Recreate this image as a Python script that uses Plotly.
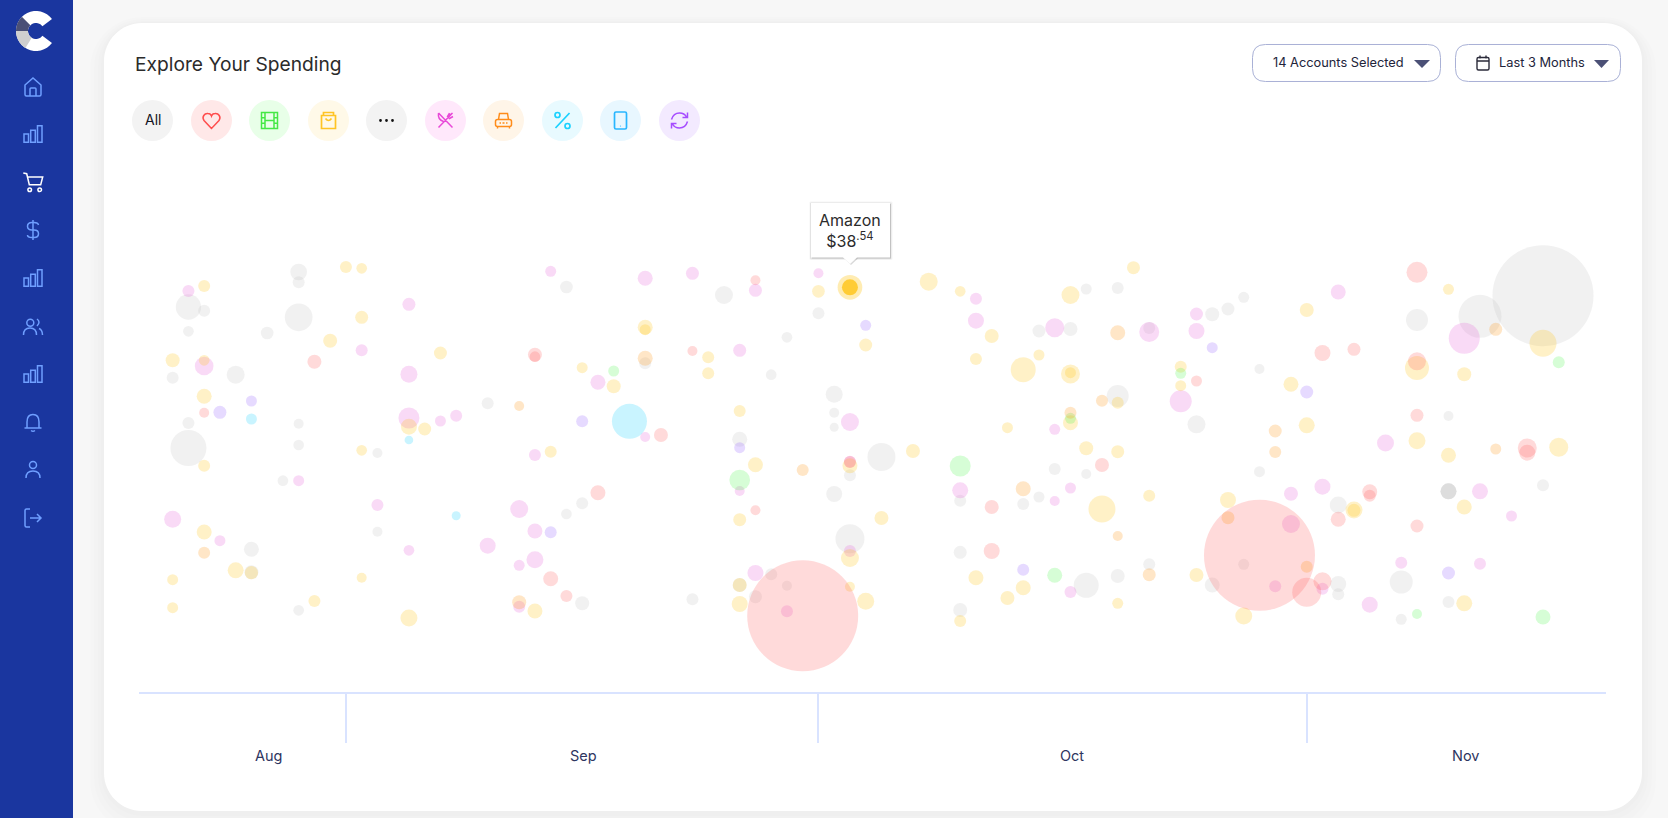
import re
import numpy as np
import pandas as pd
import plotly.graph_objects as go

W = 1668
H = 818

# one list each per category: day counted from Sep 1, lane height, bubble size
other_day = [-3, -3, -10, -9, -3, -10, -5, 14, -11, -7, -10, -3, -3, -10, 2, 9,
             -4, 2, -6, -6, -3, 14, 15, 15,
             24, 30, 28, 27, 19, 31, 31, 31, 25, 34, 47, 49, 44, 46, 49,
             32, 31, 45, 47, 44, 43, 39, 32, 39, 27, 28, 26, 25, 22, 47, 39, 49,
             57, 56, 55, 51, 58, 54, 68, 72, 76, 70,
             58, 63, 51, 57, 55, 63, 63, 67, 70, 67, 70, 70, 70, 76]
other_y = [272, 282.3, 307, 310.7, 317.3, 331.3, 333, 287, 377.7, 374.7, 423, 423.7, 445, 448, 453, 403.3,
           480.7, 531.7, 549.3, 572.3, 610.3, 514, 503.3, 603.3,
           295, 313.3, 337.3, 374.7, 363.3, 394.3, 412.7, 427.3, 439.3, 457, 289, 288, 331, 329, 396,
           475.3, 494, 469, 474, 497, 504, 500.7, 538.7, 552.3, 574.3, 585.7, 596.7, 585, 599.3, 585.3, 610, 576,
           297.3, 309, 314.3, 328, 369, 424.3, 320, 316.3, 295.7, 416,
           471.7, 505, 564.3, 564.3, 585, 584, 594.3, 582, 602, 619.3, 491.3, 491.3, 491.3, 485.3]
other_size = [16.7, 12, 25.3, 12, 27.7, 10.7, 12.7, 12.7, 12, 18, 12, 10, 10.7, 36, 10, 12,
              10.7, 10, 15, 14, 10.7, 10.7, 12, 14,
              18, 12, 10.7, 10.7, 12, 17, 10, 9, 15, 28, 11, 12, 13, 14, 22,
              12, 16, 12, 10, 11, 12, 12, 29, 13, 12, 10, 13, 14, 12, 25, 14, 14,
              11, 13, 14, 12, 10, 18, 22, 43, 101, 10,
              11, 17, 12, 11, 15, 16, 12, 23, 12, 11, 16, 16, 16, 12]

dining_day = [-10, 4, 13, 1, -9, 4, 4, 6, 7, 16, 12,
              -3, 2, -11, -8, 4, 11, 12, 9, 12, 11, 11,
              19, 22, 26, 30, 25, 40, 40, 45, 32, 19, 45,
              32, 25, 39, 46, 45, 32, 26, 28, 46,
              63, 54, 51, 54, 71, 53, 66,
              60, 62, 72, 74, 60, 67, 72, 59, 62, 65]
dining_y = [291, 304.3, 271.3, 350.3, 366, 374.3, 418, 421, 415.7, 382.3, 455,
            480.7, 505, 519.3, 540.7, 550.3, 509, 531, 545.7, 559.7, 565.3, 606.7,
            278.3, 273.3, 290.3, 273.3, 350.3, 298.7, 320.7, 327.7, 422, 437, 429.3,
            461.7, 491, 490.3, 488, 501, 551, 573, 611.3, 592,
            292, 314, 332, 331, 338.3, 401.3, 443,
            493.7, 486.7, 491.3, 516, 524, 562.7, 563.7, 586.3, 588.7, 604.7]
dining_size = [12, 13, 11, 12, 18.7, 17, 21, 11, 12, 15, 12,
               11, 12, 17, 11, 10.7, 18, 15, 16, 17, 11, 12,
               15, 13, 13, 10, 13, 12, 16, 19, 18, 10, 11,
               12, 10, 16, 11, 10, 12, 16, 12, 12,
               15, 13, 20, 16, 31, 22, 17,
               14, 16, 16, 11, 18, 12, 12, 12, 12, 16]

shopping_day = [-9, 0, 1, 1, -1, -11, -9, 6, -9, 4, 5, 1, 15, 17, 13,
                -9, -9, -7, -6, -11, -11, 1, -2, 4, 12,
                30, 37, 39, 46, 19, 19, 23, 23, 33, 41, 40, 44, 43, 46, 46, 25, 42, 46, 36, 47, 49, 49,
                26, 32, 25, 34, 32, 25, 32, 25, 33, 40, 43, 42, 39, 48, 49,
                50, 61, 70, 53, 53, 60, 61, 68, 71, 76, 68, 77, 70,
                51, 56, 64, 64, 71, 54, 57, 71]
shopping_y = [286, 267, 268.3, 317.3, 340.7, 360.3, 360.3, 353, 396.3, 426.7, 429, 450.3, 367.7, 386.3, 451.7,
              465.7, 532, 570.3, 572.7, 579.7, 607.7, 577.7, 601, 618, 611,
              291.3, 281.7, 291.3, 295, 327.3, 329.7, 357.3, 373.3, 345, 336, 359, 355, 369.7, 374, 372.7, 411, 427.7, 422.7, 451, 448.3, 451.7, 402.7,
              464.7, 465.7, 519.7, 518, 558, 585, 586.7, 604, 601.3, 577.7, 587.7, 598, 621, 509, 603.3,
              267.7, 310, 289.3, 366.7, 385.7, 384.3, 425.3, 368, 374.3, 343.3, 440.7, 447.3, 455.3,
              495.7, 500, 510, 510.3, 507, 575, 616, 603.3]
shopping_size = [12, 12, 10.7, 13, 14, 14, 10.7, 13, 15, 16, 13, 10.7, 11, 14, 12,
                 12, 15, 16, 13.3, 11, 11, 10, 12, 17, 15,
                 12.7, 18, 10.7, 18, 15, 11, 12, 12, 13, 14, 12, 11, 25, 19, 11, 12, 11, 15, 14, 14, 13, 12,
                 15, 15, 13, 14, 18, 14, 10, 16, 17, 15, 15, 14, 12, 27, 11,
                 13, 14, 11, 12, 11, 15, 16, 24, 14, 27, 17, 19, 15,
                 12, 16, 17, 13, 15, 14, 17, 16]

health_day = [-2, -9, 12, 12, 16, 13, 14, 26, 22, 20,
              32, 48, 26, 41, 41, 29,
              68, 62, 64, 68, 54, 68, 75, 75,
              65, 65, 63, 68, 58, 61, 62]
health_y = [361.7, 412.7, 354.7, 356.7, 492.7, 578.7, 596, 280.3, 351, 435,
            462, 465, 510.3, 507, 551, 615.7,
            272.3, 353, 349.3, 361.3, 381, 415.3, 448, 452.7,
            491.7, 495.7, 519.3, 526, 555.3, 592.3, 581.3]
health_size = [14, 10, 14, 10.7, 15, 15, 12, 10, 10, 14,
               12, 14, 10, 14, 16, 111,
               21, 16, 13, 18, 11, 13, 19, 16,
               15, 12, 15, 13, 111, 29, 18]

subs_day = [-8, -6, 15, 13, 33, 25, 43, 55, 61, 70]
subs_y = [412.3, 401, 421.3, 532.3, 325.3, 447.7, 569.7, 347.7, 392, 573]
subs_size = [13, 11, 12, 12, 11, 11, 12, 11, 13, 13]

fees_day = [-6, 4, 18, 7]
fees_y = [419, 440, 421.3, 515.7]
fees_size = [11, 8.7, 35, 9]

fun_day = [17, 46, 25, 39, 45, 53, 77, 68, 76]
fun_y = [371, 418.3, 480, 466, 575.3, 373.3, 362.3, 614, 617]
fun_size = [11, 11, 20.7, 21, 15, 11, 12, 10, 15]

auto_day = [11, -9, 11, 19, 48, 46, 49, 29, 43, 49, 59, 59, 73, 73, 51, 56, 61]
auto_y = [406, 552.7, 602.3, 358.3, 400.7, 412.7, 332.7, 470, 488.7, 536, 431, 452, 329.3, 449, 574.7, 517.7, 566.7]
auto_size = [10, 12, 14, 15, 12, 12, 15, 12, 15, 10, 13, 12, 13, 11, 13, 13, 12]

# the hovered Amazon purchase
picked_day = [32]
picked_y = [287.3]
picked_size = [16]
picked_ring = [24.7]
picked_name = "Amazon"
picked_amount = "$38<sup>.54</sup>"

month_names = ["Aug", "Sep", "Oct", "Nov"]
month_label_day = [-4.9, 15.1, 46.1, 71.1]
month_start_day = [0, 30, 61]
first_day = -13.15
last_day = 80

BUBBLE_ALPHA = 0.22


def to_date(days):
    return pd.Timestamp("2019-09-01") + pd.to_timedelta(days, unit="D")


# shapes are placed by page pixels, so turn those into paper fractions
def px(x):
    return x / W


def py(y):
    return 1 - y / H


def path_at(d, cx=0, cy=0):
    out = []
    nums = []
    for tok in re.findall(r"[MLCQZ]|-?[\d.]+", d):
        if tok.isalpha():
            out.append(tok)
        else:
            nums.append(float(tok))
            if len(nums) == 2:
                out.append(f"{px(nums[0] + cx):.5f},{py(nums[1] + cy):.5f}")
                nums = []
    return " ".join(out)


shapes = []


def stroke(d, cx, cy, color, width=1.5, fill=None, layer="below"):
    shapes.append(dict(type="path", path=path_at(d, cx, cy), xref="paper", yref="paper", layer=layer,
                       line=dict(color=color, width=width), fillcolor=fill))


def circle(cx, cy, r, fill=None, color=None, width=0, layer="below"):
    shapes.append(dict(type="circle", xref="paper", yref="paper", layer=layer,
                       x0=px(cx - r), x1=px(cx + r), y0=py(cy + r), y1=py(cy - r), fillcolor=fill,
                       line=dict(color=color, width=width)))


def round_rect(x0, y0, x1, y1, r):
    return (f"M{x0 + r},{y0} L{x1 - r},{y0} Q{x1},{y0} {x1},{y0 + r} L{x1},{y1 - r} Q{x1},{y1} {x1 - r},{y1} "
            f"L{x0 + r},{y1} Q{x0},{y1} {x0},{y1 - r} L{x0},{y0 + r} Q{x0},{y0} {x0 + r},{y0} Z")


def card_path(x0, y0, x1, y1, r):
    k = 0.45 * r
    return (f"M{x0 + r},{y0} L{x1 - r},{y0} C{x1 - k},{y0} {x1},{y0 + k} {x1},{y0 + r} L{x1},{y1 - r} "
            f"C{x1},{y1 - k} {x1 - k},{y1} {x1 - r},{y1} L{x0 + r},{y1} C{x0 + k},{y1} {x0},{y1 - k} {x0},{y1 - r} "
            f"L{x0},{y0 + r} C{x0},{y0 + k} {x0 + k},{y0} {x0 + r},{y0} Z")


def wedge(cx, cy, r0, r1, a0, a1):
    ang = np.radians(np.linspace(a0, a1, 30))
    pts = [(cx + r1 * np.cos(a), cy - r1 * np.sin(a)) for a in ang]
    pts += [(cx + r0 * np.cos(a), cy - r0 * np.sin(a)) for a in ang[::-1]]
    return "M" + " L".join(f"{x:.2f},{y:.2f}" for x, y in pts) + " Z"


# card and its soft shadow
for grow, drop in [(14, 8), (10, 6), (6, 4), (3, 2)]:
    stroke(card_path(104 - grow, 23 - grow + drop, 1642 + grow, 811 + grow + drop, 38 + grow), 0, 0,
           "rgba(0,0,0,0)", 0, "rgba(0,0,0,0.006)")
stroke(card_path(104, 23, 1642, 811, 38), 0, 0, "rgba(0,0,0,0)", 0, "#ffffff")

# sidebar
shapes.append(dict(type="rect", xref="paper", yref="paper", layer="below", x0=0, x1=px(73), y0=0, y1=1,
                   fillcolor="#1a369f", line=dict(width=0)))

# logo
stroke(wedge(36, 31, 8, 20, 37, 323), 0, 0, "rgba(0,0,0,0)", 0, "#ffffff")
stroke(wedge(36, 31, 8, 20, 135, 180), 0, 0, "rgba(0,0,0,0)", 0, "#4b5076")
stroke(wedge(36, 31, 8, 20, 180, 238), 0, 0, "rgba(0,0,0,0)", 0, "#cfcfcf")

NAV = "#6f9fff"
bars = ("M-9,0 L-4.5,0 L-4.5,8.3 L-9,8.3 Z M-2.3,-3.7 L2.3,-3.7 L2.3,8.3 L-2.3,8.3 Z "
        "M4.5,-8.3 L9,-8.3 L9,8.3 L4.5,8.3 Z")
stroke("M-8,-2 L0,-9 L8,-2 L8,7.5 Q8,9 6.5,9 L-6.5,9 Q-8,9 -8,7.5 Z M-3,9 L-3,2 Q-3,1 -2,1 L2,1 Q3,1 3,2 L3,9",
       33, 87, NAV)
stroke(bars, 33, 134, NAV)
stroke("M-9.7,-9 L-6.3,-8.3 L-3.7,2.7 L7.7,2.7 L9.7,-5 L-5.7,-5", 33, 182, "#ffffff")
circle(29.7, 189.7, 1.8, None, "#ffffff", 1.5)
circle(39.7, 189.7, 1.8, None, "#ffffff", 1.5)
stroke("M0,-10 L0,10 M5.5,-5 Q5,-7.5 1,-7.5 L-1,-7.5 Q-5.5,-7.5 -5.5,-3.7 Q-5.5,0 -1,0 L1,0 Q5.5,0 5.5,3.7 "
       "Q5.5,7.5 1,7.5 L-1,7.5 Q-5.5,7.5 -5.5,5", 33, 230, NAV)
stroke(bars, 33, 278, NAV)
circle(30.3, 322.7, 3.5, None, NAV, 1.5)
stroke("M-9.5,8 Q-9.5,1 -3,1 Q3.5,1 3.5,8 M4,-8 Q8,-5 4,-1 M6,1.5 Q9.5,3 9.5,8", 33, 327, NAV)
stroke(bars, 33, 374, NAV)
stroke("M-8.5,6 L8.5,6 M-6,6 L-6,0 Q-6,-7.5 0,-7.5 Q6,-7.5 6,0 L6,6 M-2,8.5 Q0,10 2,8.5", 33, 422, NAV)
circle(33, 465, 3.5, None, NAV, 1.5)
stroke("M-7,8 Q-7,1 0,1 Q7,1 7,8", 33, 470, NAV)
stroke("M-3,-9 L-6.5,-9 Q-8,-9 -8,-7.5 L-8,7.5 Q-8,9 -6.5,9 L-3,9 M-3,0 L8,0 M4,-4 L8,0 L4,4", 33, 518, NAV)

# filter chips
chip_x = [152.5, 211.5, 269.5, 328.5, 386.5, 445.5, 503.5, 562.5, 620.5, 679.5]
chip_bg = ["#f3f3f3", "#ffe8e8", "#e8ffe8", "#fff9e8", "#f3f3f3", "#ffe8fb", "#fff5e8", "#e8faff", "#e8f7ff", "#f3eaff"]
for cx, bg in zip(chip_x, chip_bg):
    circle(cx, 120.5, 20.5, bg)

stroke("M0,8 L-7.5,0 C-10,-3.5 -7,-7.5 -3.5,-7 C-2,-7 -0.5,-6 0,-4.5 C0.5,-6 2,-7 3.5,-7 C7,-7.5 10,-3.5 7.5,0 Z",
       211.5, 120.5, "#ff4d4d")
stroke("M-8,-8 L8,-8 L8,8 L-8,8 Z M-4.5,-8 L-4.5,8 M4.5,-8 L4.5,8 M-8,-2.7 L-4.5,-2.7 M-8,2.7 L-4.5,2.7 "
       "M8,-2.7 L4.5,-2.7 M8,2.7 L4.5,2.7 M-4.5,0 L4.5,0", 269.5, 120.5, "#45e845")
stroke("M-7,-5 L7,-5 L7,8 L-7,8 Z M-5,-5 L-5,-8 L5,-8 L5,-5 M-3,-2 Q0,2 3,-2", 328.5, 120.5, "#ffc425", 1.7)
for dx in [-6, 0, 6]:
    circle(386.5 + dx, 120.5, 1.4, "#111111")
stroke("M-7,-7.5 L7,7 M-7,-7.5 Q-8,-1 -2,1 M7,-7.5 L-7,7 M4,-7.5 L2,-4 L4,-2 L7.5,-4 M2,-4 L7,-7.5",
       445.5, 120.5, "#e84ad8")
stroke(round_rect(-8, -1, 8, 6, 2) + " M-5,-1 L-4,-7 L4,-7 L5,-1 M-6,6 L-6,8 M6,6 L6,8 M-4,2.5 L-2.5,2.5 "
       "M-1,2.5 L1,2.5 M2.5,2.5 L4,2.5", 503.5, 120.5, "#ff8c1a")
stroke("M7,-7.5 L-7,7.5", 562.5, 120.5, "#1ad1ff", 1.7)
circle(557.5, 115, 2.5, None, "#1ad1ff", 1.7)
circle(567.5, 126, 2.5, None, "#1ad1ff", 1.7)
stroke(round_rect(-6, -8.5, 6, 8.5, 1.5), 620.5, 120.5, "#29b6ff", 1.7)
circle(620.5, 126, 0.6, "#29b6ff")
stroke("M-8,-1 Q-6,-7.5 0,-7.5 Q5,-7.5 7,-3.5 M8,-8 L8,-3 L3,-3 M8,1 Q6,7.5 0,7.5 Q-5,7.5 -7,3.5 M-8,8 L-8,3 L-3,3",
       679.5, 120.5, "#a64dff")

# dropdowns
stroke(round_rect(1252.5, 44.5, 1440.5, 81.5, 13), 0, 0, "#a9b1d6", 1, "#ffffff")
stroke(round_rect(1455.5, 44.5, 1620.5, 81.5, 13), 0, 0, "#a9b1d6", 1, "#ffffff")
stroke("M1414,60 L1430,60 L1422,68 Z", 0, 0, "#4b5076", 0, "#4b5076")
stroke("M1594,60 L1609,60 L1601.5,68 Z", 0, 0, "#4b5076", 0, "#4b5076")
stroke(round_rect(-6, -5.5, 6, 7, 1.5) + " M-6,-2 L6,-2 M-3,-7.5 L-3,-4.5 M3,-7.5 L3,-4.5", 1483, 63, "#2b2b3a", 1.4)

# tooltip box with a soft shadow all round
TIP = "M811,203 L890,203 L890,257.5 L857,257.5 L850,264 L843,257.5 L811,257.5 Z"
stroke(round_rect(809.5, 201.5, 892.5, 260, 1), 0, 0, "rgba(0,0,0,0)", 0, "rgba(0,0,0,0.04)", layer="above")
stroke(round_rect(810, 202.5, 891.5, 259.2, 1), 0, 0, "rgba(0,0,0,0)", 0, "rgba(0,0,0,0.07)", layer="above")
stroke(TIP, 1, 1, "rgba(0,0,0,0)", 0, "rgba(0,0,0,0.15)", layer="above")
stroke(TIP, 0, 0, "rgba(0,0,0,0)", 0, "#ffffff", layer="above")

fig = go.Figure()

series = [
    ("Other", other_day, other_y, other_size, "#c0c0c0"),
    ("Dining", dining_day, dining_y, dining_size, "#e357d7"),
    ("Shopping", shopping_day, shopping_y, shopping_size, "#ffc000"),
    ("Health", health_day, health_y, health_size, "#ff5555"),
    ("Subscriptions", subs_day, subs_y, subs_size, "#8b57ff"),
    ("Fees", fees_day, fees_y, fees_size, "#0bcfff"),
    ("Entertainment", fun_day, fun_y, fun_size, "#43f743"),
    ("Auto", auto_day, auto_y, auto_size, "#ff8c00"),
]
for name, days, ys, sizes, color in series:
    fig.add_trace(go.Scatter(x=to_date(days), y=ys, mode="markers", name=name, cliponaxis=False,
                             marker=dict(size=sizes, color=color, opacity=BUBBLE_ALPHA, line=dict(width=0))))

fig.add_trace(go.Scatter(x=to_date(picked_day), y=picked_y, mode="markers", cliponaxis=False,
                         marker=dict(size=picked_ring, color="#ffc000", opacity=0.3, line=dict(width=0))))
fig.add_trace(go.Scatter(x=to_date(picked_day), y=picked_y, mode="markers", cliponaxis=False,
                         marker=dict(size=picked_size, color="#ffbf00", line=dict(width=0))))

annotations = []


def label(x, y, text, size, color, anchor="center", font="Inter"):
    annotations.append(dict(x=px(x), y=py(y), xref="paper", yref="paper", text=text, showarrow=False,
                            xanchor=anchor, yanchor="middle", align="center", borderpad=0,
                            font=dict(family=font, size=size, color=color)))


label(134, 64, "Explore Your Spending", 19.2, "#2b2b2b", "left")
label(152.5, 119.5, "All", 14, "#15151f")
label(1272, 62.5, "14 Accounts Selected", 12.8, "#22243a", "left")
label(1498, 62.5, "Last 3 Months", 12.8, "#22243a", "left")
label(849.5, 230, picked_name + "<br>" + picked_amount, 16, "#2b2b2b")

for day, name in zip(month_label_day, month_names):
    annotations.append(dict(x=to_date(day), y=py(755.5), xref="x", yref="paper", text=name, showarrow=False,
                            xanchor="center", yanchor="middle",
                            font=dict(family="Inter", size=14.5, color="#2e3560")))

fig.update_layout(
    width=W,
    height=H,
    margin=dict(l=0, r=0, t=0, b=0),
    paper_bgcolor="#f7f7f7",
    plot_bgcolor="rgba(0,0,0,0)",
    showlegend=False,
    shapes=shapes,
    annotations=annotations,
    xaxis=dict(
        domain=[px(138.8), px(1606)],
        range=[to_date(first_day), to_date(last_day)],
        tickmode="array",
        tickvals=to_date(month_start_day),
        showticklabels=False,
        ticks="outside",
        ticklen=49,
        tickwidth=1.5,
        tickcolor="#d9e3ff",
        showline=True,
        linecolor="#d9e3ff",
        linewidth=2,
        showgrid=False,
        zeroline=False,
        automargin=False,
    ),
    yaxis=dict(
        domain=[py(692), 1],
        range=[692, 0],
        visible=False,
    ),
)

fig.write_html("out.html", config=dict(displayModeBar=False),
               post_script="document.body.style.margin='0';document.body.style.overflow='hidden';")
